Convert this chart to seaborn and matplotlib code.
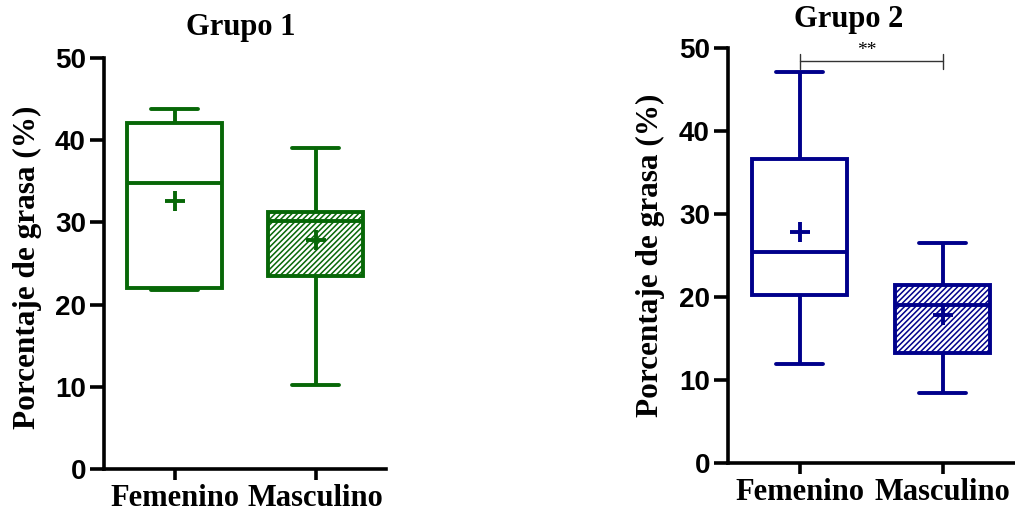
import numpy as np
import pandas as pd
import matplotlib
matplotlib.use("Agg")
import matplotlib.pyplot as plt
import seaborn as sns

# Five-number summaries (min, Q1, median, Q3, max) of body-fat percentage
categorias = ["Femenino", "Masculino"]
g1_femenino = [21.8, 22.0, 34.8, 42.1, 43.8]
g1_masculino = [10.2, 23.5, 30.2, 31.3, 39.0]
g2_femenino = [11.9, 20.2, 25.4, 36.6, 47.1]
g2_masculino = [8.4, 13.2, 19.0, 21.4, 26.5]

# Group means (drawn as "+")
g1_medias = [32.6, 27.9]
g2_medias = [27.8, 17.8]

titulos = ["Grupo 1", "Grupo 2"]
y_ticks = [0, 10, 20, 30, 40, 50]
significancia = "**"

VERDE = "#076707"
AZUL = "#00008B"

sns.set_theme(style="white")
plt.rcParams["hatch.linewidth"] = 1.1
plt.rcParams["text.color"] = "black"

SERIF = "Liberation Serif"
SANS = "Liberation Sans"

fig = plt.figure(figsize=(10.15, 5.14), dpi=100)
ax1 = fig.add_axes([104 / 1015, 45 / 514, 282 / 1015, 411 / 514])
ax2 = fig.add_axes([728 / 1015, 51 / 514, 286 / 1015, 415 / 514])


def tabla(fem, mas):
    return pd.DataFrame({
        "sexo": [categorias[0]] * len(fem) + [categorias[1]] * len(mas),
        "grasa": list(fem) + list(mas),
    })


def panel(ax, fem, mas, medias, color):
    df = tabla(fem, mas)
    sns.boxplot(data=df, x="sexo", y="grasa", order=categorias, ax=ax,
                color="white", linecolor=color, linewidth=2.8, width=0.67,
                whis=(0, 100), fill=True, showfliers=False)
    # hatched fill for the second box
    caja = ax.patches[1]
    caja.set_facecolor("white")
    caja.set_edgecolor(color)
    caja.set_hatch("//////")
    ax.plot(range(len(medias)), medias, ls="none", marker="+", ms=15,
            mew=2.8, color=color, zorder=5)

    ax.set_ylim(0, 50)
    ax.set_xlim(-0.5, 1.5)
    ax.set_yticks(y_ticks)
    ax.set_xlabel("")
    for side in ["top", "right"]:
        ax.spines[side].set_visible(False)
    for side in ["left", "bottom"]:
        ax.spines[side].set_linewidth(2.6)
        ax.spines[side].set_color("black")
    ax.tick_params(axis="y", length=10, width=2.6, pad=3, left=True,
                   labelsize=20, colors="black")
    ax.tick_params(axis="x", length=8, width=2.6, pad=3, bottom=True,
                   labelsize=22, colors="black")
    for t in ax.get_yticklabels():
        t.set_fontfamily(SANS)
        t.set_fontweight("bold")
    for t in ax.get_xticklabels():
        t.set_fontfamily(SERIF)
        t.set_fontweight("bold")
    ax.set_ylabel("Porcentaje de grasa (%)", fontsize=22.5, fontweight="bold",
                  fontfamily=SERIF, color="black")


panel(ax1, g1_femenino, g1_masculino, g1_medias, VERDE)
panel(ax2, g2_femenino, g2_masculino, g2_medias, AZUL)

ax1.yaxis.set_label_coords(-0.22, 0.49)
ax2.yaxis.set_label_coords(-0.22, 0.5)

fig.text(241 / 1015, 1 - 28 / 514, titulos[0], ha="center", va="center",
         fontsize=22, fontweight="bold", fontfamily=SERIF, color="black")
fig.text(849 / 1015, 1 - 19 / 514, titulos[1], ha="center", va="center",
         fontsize=22, fontweight="bold", fontfamily=SERIF, color="black")

# significance bracket between the two boxes of group 2
y_sig = 48.4
ax2.plot([0, 1], [y_sig, y_sig], color="#333333", lw=1.0, clip_on=False)
for xp in [0, 1]:
    ax2.plot([xp, xp], [y_sig - 0.9, y_sig + 0.9], color="#333333", lw=1.0,
             clip_on=False)
ax2.text(0.47, y_sig + 0.3, significancia, ha="center", va="bottom",
         fontsize=14, fontfamily=SERIF, color="black", clip_on=False)

fig.savefig("out.png", dpi=100)
